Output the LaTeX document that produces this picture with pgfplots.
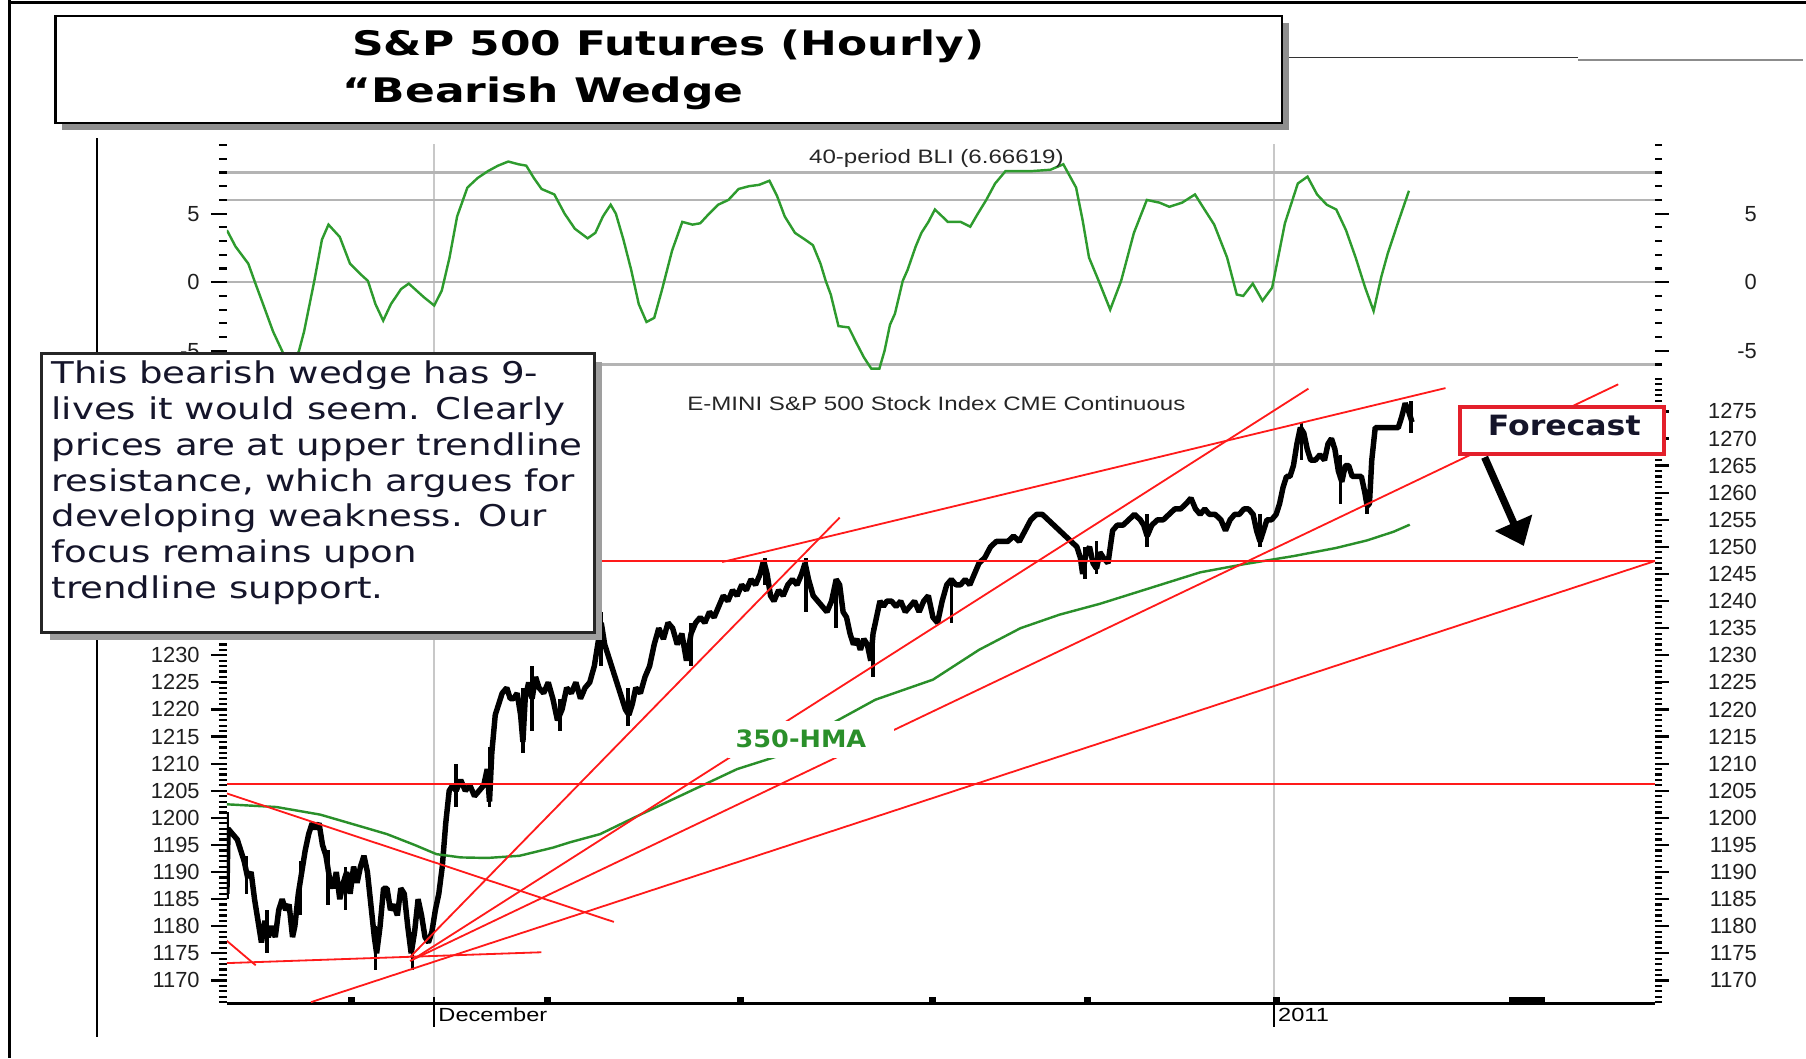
\documentclass[border=0pt]{standalone}
\usepackage{pgfplots}
\usepackage{pgfplotstable}
\pgfplotsset{compat=1.18}
\usepackage{fontspec}
\setmainfont{Liberation Sans}
\newfontfamily\titlefont{DejaVu Sans}[FakeStretch=1.3]
\newfontfamily\notefont{DejaVu Sans}[FakeStretch=1.24]
\newfontfamily\forefont{DejaVu Sans}[FakeStretch=1.13]
\newfontfamily\hmafont{DejaVu Sans}[FakeStretch=1.07]
\newfontfamily\widesans{Liberation Sans}[FakeStretch=1.24]
\usetikzlibrary{arrows.meta}
\definecolor{bligreen}{HTML}{2E9B2E}
\definecolor{hmagreen}{HTML}{2A8F2A}
\definecolor{trendred}{HTML}{FF1A1A}
\definecolor{gridgray}{HTML}{C8C8C8}
\definecolor{bandgray}{HTML}{B4B4B4}
\definecolor{shadowgray}{HTML}{8E8E8E}
\definecolor{navytext}{HTML}{15152A}
\definecolor{boxred}{HTML}{E3202B}

% 40-period BLI (x = horizontal position, v = indicator value)
\pgfplotstableread{
x v
197 3.8
204.5 2.6
215.6 1.35
221.8 -0.1
228.4 -1.6
237.1 -3.6
246 -5.2
252 -5.6
257 -5.5
259.6 -5.0
264 -3.6
272.9 0.1
279.5 3.1
285.2 4.2
295 3.3
303.9 1.35
312.8 0.6
319.4 0.1
326 -1.6
332.7 -2.8
339.4 -1.6
348.2 -0.5
354.9 -0.1
361.5 -0.6
368.1 -1.1
377 -1.7
383.6 -0.6
390.3 1.8
396.9 4.8
405.8 6.9
414.7 7.6
423.6 8.1
432.4 8.5
441.3 8.8
450.2 8.6
456.9 8.5
463.5 7.6
470.2 6.8
481.3 6.4
490.2 5.0
499.1 3.9
510.2 3.2
516.9 3.6
523.5 4.8
530.2 5.65
534.7 5.0
541.3 3.1
548 0.9
554.6 -1.6
561.3 -2.9
568 -2.6
574.6 -0.6
583.5 2.3
592.4 4.4
601.3 4.2
608 4.3
614.6 4.9
623.5 5.65
632.4 6.0
641.3 6.8
650.2 7.0
659.1 7.1
668 7.4
674.6 6.3
681.3 4.8
690.2 3.6
699.1 3.1
705.8 2.7
712.4 1.35
716.9 0.1
721.3 -0.9
728 -3.2
736.9 -3.3
744 -4.5
750.2 -5.5
756.5 -6.3
763.5 -6.3
768 -5.0
772.7 -3.1
777 -2.3
783.8 0.1
788 0.9
795 2.6
800 3.6
806.1 4.4
811.7 5.3
818 4.8
822.9 4.4
834 4.4
842.4 4.05
849 5.0
856.3 6.0
864 7.2
873 8.1
895.3 8.1
912 8.2
923.2 8.6
934.3 6.9
940 4.5
945.5 1.8
953.9 0.1
963.9 -2.0
973.4 0.1
984.5 3.6
995.7 6.0
1006.8 5.8
1015.2 5.5
1026.3 5.8
1037.5 6.4
1045.8 5.3
1054.2 4.2
1065.4 1.8
1073.8 -0.9
1079.4 -1.0
1087.7 -0.1
1096.1 -1.35
1104.5 -0.4
1115.6 4.3
1126.8 7.2
1135.2 7.7
1143.5 6.4
1151.9 5.65
1160.2 5.3
1168.6 3.8
1177 1.8
1185.3 -0.4
1192.6 -2.1
1199.3 0.4
1204.9 2.1
1213.2 4.2
1223.3 6.67
}\blidata

% hourly S&P 500 futures price
\pgfplotstableread{
x p
197 1186
198 1198
202 1197
206 1196
209 1194
212 1192
215 1189
218 1190
221 1185
224 1181
227 1177
230 1181
233 1178
236 1180
239 1178
242 1183
245 1185
248 1183
251 1184
254 1178
256 1180
259 1186
262 1190
265 1194
268 1197
271 1199
274 1198
277 1199
280 1195
283 1193
286 1189
289 1187
292 1190
295 1185
298 1188
301 1190
304 1186
307 1191
310 1188
313 1191
316 1193
319 1190
322 1184
325 1178
327 1175
330 1180
333 1187
336 1187
339 1183
342 1184
345 1182
348 1187
351 1186
354 1180
357 1175
360 1179
363 1185
366 1182
369 1178
372 1177
375 1179
378 1183
381 1186
384 1191
387 1199
390 1205
393 1206
396 1205
400 1207
404 1205
408 1206
412 1204
416 1205
420 1206
423 1209
425 1203
427 1212
430 1219
433 1221
436 1223
440 1224
443 1222
446 1222
449 1223
452 1219
454 1214
456 1222
459 1225
462 1222
465 1226
468 1224
472 1223
476 1225
480 1222
484 1218
488 1220
492 1224
496 1223
500 1225
504 1222
508 1224
512 1225
516 1228
519 1232
522 1236
525 1232
528 1230
531 1228
534 1226
537 1224
540 1222
543 1220
546 1219
549 1221
552 1224
556 1223
560 1226
564 1228
568 1232
572 1235
576 1233
580 1236
584 1235
588 1232
592 1234
596 1229
600 1234
604 1236
608 1237
612 1236
616 1238
620 1237
624 1239
628 1241
632 1240
636 1242
640 1241
644 1243
648 1242
652 1244
656 1243
660 1245
663 1247.5
666 1245
669 1241
672 1240
676 1242
680 1241
684 1243
688 1244
692 1243
696 1245
699 1247
702 1244
706 1241
710 1240
714 1239
718 1238
722 1240
726 1244
729 1243
732 1238
735 1237
738 1234
741 1232
744 1233
747 1231
750 1233
753 1232
756 1229
758 1234
761 1237
764 1240
767 1239
770 1240
774 1240
778 1239
782 1240
786 1238
790 1239
794 1240
798 1238
802 1240
806 1241
810 1237
814 1236
818 1240
822 1243
826 1244
830 1243
834 1243
838 1244
842 1243
846 1245
850 1247
855 1248
860 1250
865 1251
870 1251
875 1251
880 1252
885 1251
890 1253
895 1255
900 1256
905 1256
910 1255
915 1254
920 1253
925 1252
930 1251
935 1250
938 1248
940 1245
943 1249
946 1250
949 1247
952 1246
955 1249
958 1248
962 1247
966 1253
970 1254
975 1254
980 1255
985 1256
990 1255
993 1254
996 1252
1000 1254
1005 1255
1010 1255
1015 1256
1020 1257
1025 1257
1030 1258
1034 1259
1038 1257
1042 1256
1046 1257
1050 1256
1055 1256
1060 1255
1064 1253
1068 1255
1072 1256
1076 1256
1080 1257
1084 1257
1088 1256
1091 1253
1094 1251
1097 1253
1100 1255
1104 1255
1108 1256
1111 1258
1114 1261
1117 1263
1120 1263
1123 1265
1126 1269
1129 1272
1132 1271
1135 1268
1138 1266
1142 1266
1146 1267
1150 1266
1153 1269
1156 1270
1159 1268
1162 1264
1165 1262
1168 1265
1171 1265
1174 1263
1178 1263
1182 1263
1185 1260
1187 1257.5
1189 1258
1191 1266
1194 1272
1198 1272
1202 1272
1206 1272
1210 1272
1214 1272
1217 1274
1220 1276.5
1223 1275
1226 1273
}\pricedata

% hourly high-low ranges of the widest bars (x, mid, half range)
\pgfplotstableread{
x m e
197 1193 8
214 1189.5 3.5
232 1179 4
261 1187 5
285 1189 5
300 1187 4
326 1176 4
358 1175.5 3.5
396 1206 4
425 1207.5 5.5
454 1218 6
462 1222 6
486 1219 3
522 1233 5
545 1220.5 3.5
600 1232 4
664 1245.5 2.5
700 1243 5
726 1239.5 4.5
758 1230.5 4.5
826 1240 4
942 1247 3
952 1248 3
996 1253 3
1094 1253 3
1130 1269.5 3.5
1164 1262.5 4.5
1187 1258 2
1225 1274 3
}\spikedata

% 350-hour moving average
\pgfplotstableread{
x p
197 1202.5
240 1202
278 1200.6
320 1198
336 1197
360 1195
379 1193.3
400 1192.7
423 1192.6
451 1193
480 1194.5
495 1195.5
521 1197
556 1200.6
600 1205
640 1209
677 1211.5
723 1217.5
760 1221.8
810 1225.5
850 1231
886 1235
920 1237.5
955 1239.5
1000 1242.5
1042 1245.3
1080 1246.8
1123 1248.3
1160 1249.8
1187 1251.2
1210 1252.8
1224 1254.1
}\hmadata

\pgfplotsset{
  panel/.style={scale only axis, width=124mm, xmin=197, xmax=1437,
    tick style={black, line width=0.55pt},
    yticklabel style={font=\fontsize{5.4}{6}\selectfont, text=black!88, anchor=east, inner sep=0pt},
    y axis line style={draw=none}},
  leftside/.style={axis y line*=left, tick align=outside,
    major tick length=1.4mm, minor tick length=0.7mm, yticklabel shift=0.9mm},
  rightside/.style={axis y line*=right, hide x axis, tick align=outside,
    major tick length=1.2mm, minor tick length=0.6mm, yticklabel shift=7.7mm},
}

\begin{document}
\begin{tikzpicture}[x=0.1mm,y=0.1mm]
\useasboundingbox (0,0) rectangle (1568,919);

% ---------- BLI panel ----------
\begin{axis}[panel, leftside, at={(19.7mm,59.1mm)}, anchor=south west, height=20.3mm,
  ymin=-6.97, ymax=10.08,
  axis x line*=bottom, x axis line style={draw=none}, xtick=\empty,
  extra x ticks={377,1106}, extra x tick labels={},
  extra x tick style={grid=major, major grid style={gridgray, line width=0.5pt}, tick style={draw=none}},
  ytick={-5,0,5}, yticklabels={-5,0,5}, minor ytick={-6,-5,...,10},
  extra y ticks={-6,0,6,8}, extra y tick labels={},
  extra y tick style={grid=major, major grid style={bandgray, line width=0.6pt}, tick style={draw=none}},
]
\addplot[bligreen, line width=0.6pt] table[x=x, y=v] {\blidata};
\end{axis}
\begin{axis}[panel, rightside, at={(19.7mm,59.1mm)}, anchor=south west, height=20.3mm,
  ymin=-6.97, ymax=10.08,
  ytick={-5,0,5}, yticklabels={-5,0,5}, minor ytick={-6,-5,...,10}]
\addplot[draw=none] coordinates {(197,0)};
\end{axis}

% ---------- price panel ----------
\begin{axis}[panel, leftside, at={(19.7mm,4.8mm)}, anchor=south west, height=54.3mm,
  ymin=1165.8, ymax=1281.2,
  axis x line*=bottom, x axis line style={black, line width=0.75pt}, xtick=\empty,
  extra x ticks={377,1106}, extra x tick labels={},
  extra x tick style={grid=major, major grid style={gridgray, line width=0.5pt}, tick style={draw=none}},
  ytick={1170,1175,...,1280},
  yticklabels={1170,1175,1180,1185,1190,1195,1200,1205,1210,1215,1220,1225,1230,{},{},{},{},{},{},{},{},{},{}},
  minor ytick={1166,1167,...,1281},
]
\addplot[black, line width=1.35pt, line join=bevel] table[x=x, y=p] {\pricedata};
\addplot[draw=none, mark=none, forget plot, error bars/.cd, y dir=both, y explicit,
  error mark=none, error bar style={draw=black, line width=0.9pt}]
  table[x=x, y=m, y error=e] {\spikedata};
\addplot[hmagreen, line width=0.6pt] table[x=x, y=p] {\hmadata};
% horizontal support / resistance
\addplot[trendred, line width=0.5pt] coordinates {(197,1247.4) (1437,1247.4)};
\addplot[trendred, line width=0.5pt] coordinates {(197,1206.3) (1437,1206.3)};
% trendlines
\addplot[trendred, line width=0.45pt] coordinates {(627,1247.2) (1255,1279.3)};
\addplot[trendred, line width=0.45pt] coordinates {(356,1174.3) (729,1255.4)};
\addplot[trendred, line width=0.45pt] coordinates {(358,1173.8) (1136,1279.2)};
\addplot[trendred, line width=0.45pt] coordinates {(356,1173.6) (1405,1280)};
\addplot[trendred, line width=0.45pt] coordinates {(270,1166) (1437,1247.4)};
\addplot[trendred, line width=0.45pt] coordinates {(197,1204.5) (533,1180.8)};
\addplot[trendred, line width=0.45pt] coordinates {(197,1173.2) (470,1175.2)};
\addplot[trendred, line width=0.45pt] coordinates {(197,1177.3) (222,1172.8)};
\end{axis}
\begin{axis}[panel, rightside, at={(19.7mm,4.8mm)}, anchor=south west, height=54.3mm,
  ymin=1165.8, ymax=1281.2,
  ytick={1170,1175,...,1275},
  yticklabels={1170,1175,1180,1185,1190,1195,1200,1205,1210,1215,1220,1225,1230,1235,1240,1245,1250,1255,1260,1265,1270,1275},
  minor ytick={1166,1167,...,1281}]
\addplot[draw=none] coordinates {(197,1200)};
\end{axis}

% ---------- decorations in image coordinates ----------
\begin{scope}[shift={(0,919)}, yscale=-1]
  % frame
  \draw[black, line width=0.8pt] (8,0) -- (8,919);
  \draw[black, line width=0.8pt] (8,2) -- (1568,2);
  \draw[black, line width=0.5pt] (84,120) -- (84,900);
  \draw[black!80, line width=0.4pt] (1113,50) -- (1370,50);
  \draw[black!45, line width=0.4pt] (1370,52) -- (1565,52);
  % panel titles
  \node[anchor=base, inner sep=0pt, text=black!85] at (813,142) {\widesans\fontsize{4.8}{5}\selectfont 40-period BLI (6.66619)};
  \node[anchor=base, inner sep=0pt, text=black!85] at (813,356) {\widesans\fontsize{4.8}{5}\selectfont E-MINI S\&P 500 Stock Index CME Continuous};
  % time axis marks
  \foreach \t in {305,475,643,810,944,1108} \fill (\t-3,866) rectangle (\t+3,871);
  \fill (1310,866) rectangle (1341,871);
  \draw[black, line width=0.4pt] (377,866) -- (377,892);
  \draw[black, line width=0.4pt] (1106,866) -- (1106,892);
  \node[anchor=base west, inner sep=0pt] at (380,887) {\widesans\fontsize{4.7}{5}\selectfont December};
  \node[anchor=base west, inner sep=0pt] at (1109,887) {\widesans\fontsize{4.7}{5}\selectfont 2011};
  % 350-HMA label
  \fill[white] (632,626) rectangle (776,658);
  \node[anchor=base west, inner sep=0pt, text=hmagreen] at (638,649) {\hmafont\bfseries\fontsize{5.9}{6}\selectfont 350-HMA};
  % title box
  \fill[shadowgray] (54,20) rectangle (1119,113);
  \filldraw[fill=white, draw=black, line width=0.6pt] (48,14) rectangle (1113,107);
  \node[anchor=base west, inner sep=0pt] at (305,48) {\titlefont\bfseries\fontsize{8.35}{9}\selectfont S\&P 500 Futures (Hourly)};
  \node[anchor=base west, inner sep=0pt] at (297,89) {\titlefont\bfseries\fontsize{8.35}{9}\selectfont “Bearish Wedge};
  % annotation box
  \fill[shadowgray!85] (43,314) rectangle (523,556);
  \filldraw[fill=white, draw=black!85, line width=0.6pt] (36,307) rectangle (516,549);
  \foreach \txt/\yy in {{This bearish wedge has 9-}/333, {lives it would seem. Clearly}/364.5, {prices are at upper trendline}/395.5, {resistance, which argues for}/426.5, {developing weakness. Our}/457.5, {focus remains upon}/488.5, {trendline support.}/519.5}
    \node[anchor=base west, inner sep=0pt, text=navytext] at (44,\yy) {\notefont\fontsize{7.4}{8}\selectfont \txt};
  % forecast box and arrow
  \filldraw[fill=white, draw=boxred, line width=1pt] (1268,353) rectangle (1445,394);
  \node[anchor=base west, inner sep=0pt, text=navytext] at (1291,378) {\forefont\bfseries\fontsize{6.9}{7}\selectfont Forecast};
  \draw[black, line width=1.8pt, -{Triangle[length=2.2mm, width=3.4mm]}] (1289,397) -- (1323,474);
\end{scope}
\end{tikzpicture}
\end{document}
